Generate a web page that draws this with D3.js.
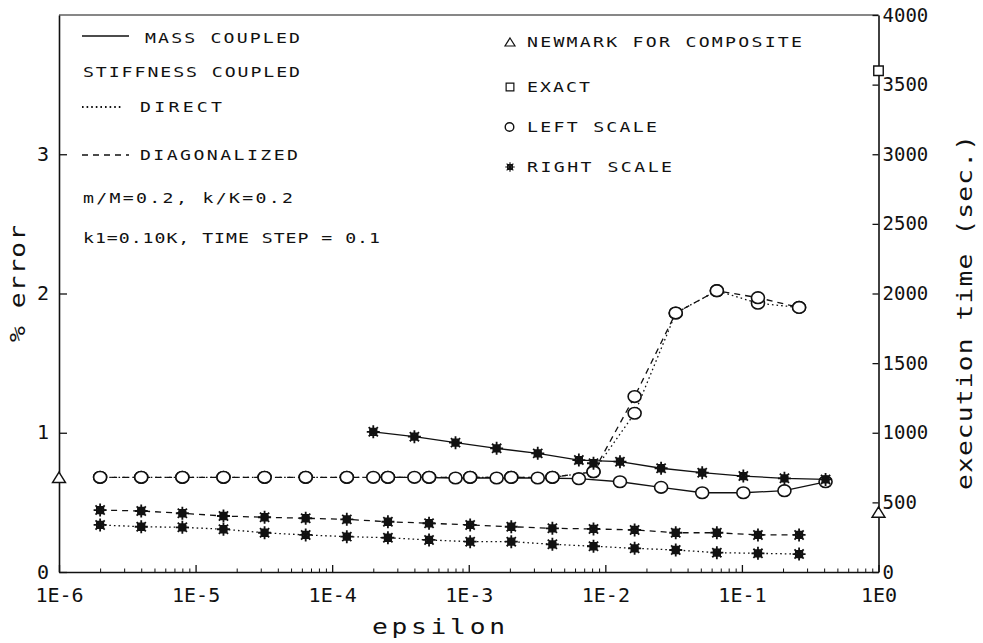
<!DOCTYPE html>
<html>
<head>
<meta charset="utf-8">
<script src="https://cdn.jsdelivr.net/npm/d3@7"></script>
<style>
  html, body { margin: 0; padding: 0; background: #fff; }
  svg { display: block; }
</style>
</head>
<body>
<svg id="chart" width="983" height="643"></svg>
<script>
// ---- data ---------------------------------------------------------------
// epsilon values: fine grid (direct / diagonalized) and mass coupled grid
const epsFine = [2e-6, 4e-6, 8e-6, 1.6e-5, 3.2e-5, 6.4e-5, 1.28e-4, 2.56e-4, 5.12e-4,
                 1.024e-3, 2.048e-3, 4.096e-3, 8.192e-3, 1.6384e-2, 3.2768e-2,
                 6.5536e-2, 0.131072, 0.262144];
const epsMass = [2e-4, 4e-4, 8e-4, 1.6e-3, 3.2e-3, 6.4e-3, 1.28e-2, 2.56e-2,
                 5.12e-2, 0.1024, 0.2048, 0.4096];

// % error (left scale)
const errDirect = [0.68, 0.68, 0.68, 0.68, 0.68, 0.68, 0.68, 0.68, 0.68, 0.68, 0.68, 0.68,
                   0.72, 1.14, 1.86, 2.02, 1.93, 1.90];
const errDiag   = [0.68, 0.68, 0.68, 0.68, 0.68, 0.68, 0.68, 0.68, 0.68, 0.68, 0.68, 0.68,
                   0.72, 1.26, 1.86, 2.02, 1.97, 1.90];
const errMass   = [0.68, 0.68, 0.675, 0.675, 0.675, 0.67, 0.648, 0.608, 0.569, 0.569, 0.584, 0.648];

// execution time in seconds (right scale)
const timeDiag   = [445, 438, 422, 402, 393, 386, 378, 361, 350, 338, 325, 314, 309, 302, 282, 282, 266, 266];
const timeDirect = [338, 325, 321, 307, 282, 266, 254, 246, 230, 218, 218, 199, 185, 170, 158, 139, 134, 129];
const timeMass   = [1007, 972, 929, 888, 852, 804, 792, 745, 713, 689, 673, 665];
const timeSingleEps = [8.192e-3];
const timeSingle    = [781];

// reference marks
const newmarkErrEps  = [1e-6];
const newmarkErr     = [0.68];
const newmarkTimeEps = [1];
const newmarkTime    = [430];
const exactEps  = [1];
const exactTime = [3600];

// ticks and labels
const xDecades    = [1e-6, 1e-5, 1e-4, 1e-3, 1e-2, 1e-1, 1];
const xTickLabels = ["1E-6", "1E-5", "1E-4", "1E-3", "1E-2", "1E-1", "1E0"];
const yLeftTicks  = [0, 1, 2, 3];
const yRightTicks = [0, 500, 1000, 1500, 2000, 2500, 3000, 3500, 4000];

const legendLeft  = ["MASS COUPLED", "STIFFNESS COUPLED", "DIRECT", "DIAGONALIZED",
                     "m/M=0.2, k/K=0.2", "k1=0.10K, TIME STEP = 0.1"];
const legendRight = ["NEWMARK FOR COMPOSITE", "EXACT", "LEFT SCALE", "RIGHT SCALE"];

// ---- scales -------------------------------------------------------------
const svg = d3.select("#chart");
const FONT = "'DejaVu Sans Mono', 'Liberation Mono', monospace";
const INK = "#111";

const x  = d3.scaleLog().domain([1e-6, 1]).range([59, 878.5]);
const yL = d3.scaleLinear().domain([0, 4]).range([572, 15]);
const yR = d3.scaleLinear().domain([0, 4000]).range([572, 15]);

// wide plotter-style lettering: glyphs stretched horizontally, run fitted to a length
function wideText(parent, str, px, py, opts) {
  const o = Object.assign({ size: 14, sx: 1.3, len: null, rot: 0 }, opts);
  const t = parent.append("text").text(str)
    .attr("transform", `translate(${px},${py}) rotate(${o.rot}) scale(${o.sx},1)`)
    .attr("font-family", FONT).attr("font-size", o.size).attr("fill", INK);
  if (o.len) t.attr("textLength", o.len / o.sx).attr("lengthAdjust", "spacing");
  return t;
}

// ---- axes ---------------------------------------------------------------
function styleAxis(g, size) {
  g.select(".domain").attr("stroke", INK).attr("stroke-width", 1.6);
  g.selectAll(".tick line").attr("stroke", INK).attr("stroke-width", 1.3);
  g.selectAll(".tick text").attr("fill", INK).attr("font-family", FONT).attr("font-size", size);
}

const minorTicks = [];
for (let e = -6; e < 0; e++) for (let m = 2; m <= 9; m++) minorTicks.push(m * Math.pow(10, e));

const gxMinor = svg.append("g").attr("transform", `translate(0,${yL(0)})`)
  .call(d3.axisBottom(x).tickValues(minorTicks).tickSize(-3.5).tickFormat(""));
gxMinor.select(".domain").remove();
gxMinor.selectAll(".tick line").attr("stroke", INK).attr("stroke-width", 1);

const gx = svg.append("g").attr("transform", `translate(0,${yL(0)})`)
  .call(d3.axisBottom(x).tickValues(xDecades).tickSize(-7).tickSizeOuter(0)
        .tickPadding(16).tickFormat((d, i) => xTickLabels[i]));
styleAxis(gx, 20);

const gyL = svg.append("g").attr("transform", `translate(${x(1e-6)},0)`)
  .call(d3.axisLeft(yL).tickValues(yLeftTicks).tickSize(-8).tickSizeOuter(0)
        .tickPadding(10).tickFormat(d3.format("d")));
styleAxis(gyL, 20);
gyL.selectAll(".tick text").attr("dy", "0.3em");

const gyR = svg.append("g").attr("transform", `translate(${x(1)},0)`)
  .call(d3.axisRight(yR).tickValues(yRightTicks).tickSize(-6).tickSizeOuter(0)
        .tickPadding(4).tickFormat(d3.format("d")));
styleAxis(gyR, 19);

// top edge of the frame
svg.append("line")
  .attr("x1", x(1e-6)).attr("x2", x(1)).attr("y1", yL(4)).attr("y2", yL(4))
  .attr("stroke", INK).attr("stroke-width", 1.2);

// axis titles
wideText(svg, "epsilon", 372, 634, { size: 21, sx: 1.25, len: 133 });
wideText(svg, "% error", 25, 342, { size: 21, sx: 1.25, len: 117, rot: -90 });
wideText(svg, "execution time (sec.)", 972, 490, { size: 21, sx: 1.25, len: 355, rot: -90 });

// ---- markers ------------------------------------------------------------
const starSymbol = {
  draw(ctx, size) {
    const r = Math.sqrt(size) / 2, s = r * 0.5;
    for (let i = 0; i < 4; i++) {
      const a = i * Math.PI / 4;
      ctx.moveTo(-r * Math.cos(a), -r * Math.sin(a));
      ctx.lineTo(r * Math.cos(a), r * Math.sin(a));
    }
    ctx.moveTo(-s, -s); ctx.lineTo(s, -s); ctx.lineTo(s, s); ctx.lineTo(-s, s); ctx.closePath();
  }
};
const triSymbol = {
  draw(ctx, size) {
    const w = Math.sqrt(size) / 2, h = w * 0.8;
    ctx.moveTo(0, -h); ctx.lineTo(w, h); ctx.lineTo(-w, h); ctx.closePath();
  }
};
const squareSymbol = {
  draw(ctx, size) {
    const s = Math.sqrt(size) / 2;
    ctx.moveTo(-s, -s); ctx.lineTo(s, -s); ctx.lineTo(s, s); ctx.lineTo(-s, s); ctx.closePath();
  }
};

// ---- series -------------------------------------------------------------
const styles = {
  solid:  null,
  dotted: "1.6,3",
  dashed: "6,5"
};

const lineSeries = [
  { eps: epsFine, vals: errDirect,  y: yL, dash: styles.dotted, mark: "circle" },
  { eps: epsFine, vals: errDiag,    y: yL, dash: styles.dashed, mark: "circle" },
  { eps: epsMass, vals: errMass,    y: yL, dash: styles.solid,  mark: "circle" },
  { eps: epsFine, vals: timeDirect, y: yR, dash: styles.dotted, mark: "star" },
  { eps: epsFine, vals: timeDiag,   y: yR, dash: styles.dashed, mark: "star" },
  { eps: epsMass, vals: timeMass,   y: yR, dash: styles.solid,  mark: "star" }
];

const gLines = svg.append("g");
const gMarks = svg.append("g");

lineSeries.forEach(s => {
  const pts = s.eps.map((e, i) => [e, s.vals[i]]);
  const line = d3.line().x(d => x(d[0])).y(d => s.y(d[1]));
  gLines.append("path").datum(pts)
    .attr("d", line).attr("fill", "none").attr("stroke", INK)
    .attr("stroke-width", 1.3)
    .attr("stroke-dasharray", s.dash);
});

function drawMarks(eps, vals, yScale, kind) {
  const pts = eps.map((e, i) => [e, vals[i]]);
  if (kind === "circle") {
    gMarks.append("g").selectAll("ellipse").data(pts).join("ellipse")
      .attr("cx", d => x(d[0])).attr("cy", d => yScale(d[1])).attr("rx", 6.5).attr("ry", 5.8)
      .attr("fill", "#fff").attr("stroke", INK).attr("stroke-width", 1.6);
  } else {
    const type = kind === "star" ? starSymbol : kind === "tri" ? triSymbol : squareSymbol;
    const size = kind === "star" ? 169 : kind === "tri" ? 169 : 90;
    gMarks.append("g").selectAll("path").data(pts).join("path")
      .attr("transform", d => `translate(${x(d[0])},${yScale(d[1])})`)
      .attr("d", d3.symbol().type(type).size(size))
      .attr("fill", "#fff").attr("stroke", INK)
      .attr("stroke-width", kind === "star" ? 1.8 : 1.4);
  }
}

lineSeries.forEach(s => drawMarks(s.eps, s.vals, s.y, s.mark));
drawMarks(timeSingleEps, timeSingle, yR, "star");
drawMarks(newmarkErrEps, newmarkErr, yL, "tri");
drawMarks(newmarkTimeEps, newmarkTime, yR, "tri");
drawMarks(exactEps, exactTime, yR, "square");

// ---- legends ------------------------------------------------------------
const gLeg = svg.append("g");

const leftEntries = [
  { x: 145, y: 43,  len: 155, sample: styles.solid,  sy: 36 },
  { x: 83,  y: 77,  len: 217 },
  { x: 140, y: 112, len: 82,  sample: styles.dotted, sy: 107 },
  { x: 140, y: 160, len: 158, sample: styles.dashed, sy: 155 },
  { x: 83,  y: 203, len: 210 },
  { x: 83,  y: 243, len: 297 }
];
leftEntries.forEach((e, i) => {
  wideText(gLeg, legendLeft[i], e.x, e.y, { len: e.len });
  if ("sample" in e) {
    gLeg.append("line")
      .attr("x1", 82).attr("x2", i === 2 ? 122 : 129).attr("y1", e.sy).attr("y2", e.sy)
      .attr("stroke", INK).attr("stroke-width", i === 2 ? 1.8 : 1.3)
      .attr("stroke-dasharray", e.sample);
  }
});

const rightEntries = [
  { y: 47,  len: 275, kind: "tri" },
  { y: 92,  len: 63,  kind: "square" },
  { y: 132, len: 130, kind: "circle" },
  { y: 172, len: 145, kind: "star" }
];
rightEntries.forEach((e, i) => {
  wideText(gLeg, legendRight[i], 527, e.y, { len: e.len });
  const cy = e.y - 5;
  if (e.kind === "circle") {
    gLeg.append("circle").attr("cx", 509.5).attr("cy", cy).attr("r", 4.3)
      .attr("fill", "#fff").attr("stroke", INK).attr("stroke-width", 1.4);
  } else {
    const type = e.kind === "star" ? starSymbol : e.kind === "tri" ? triSymbol : squareSymbol;
    const size = e.kind === "star" ? 90 : e.kind === "tri" ? 100 : 60;
    gLeg.append("path")
      .attr("transform", `translate(510,${cy})`)
      .attr("d", d3.symbol().type(type).size(size))
      .attr("fill", "#fff").attr("stroke", INK).attr("stroke-width", 1.2);
  }
});
</script>
</body>
</html>
